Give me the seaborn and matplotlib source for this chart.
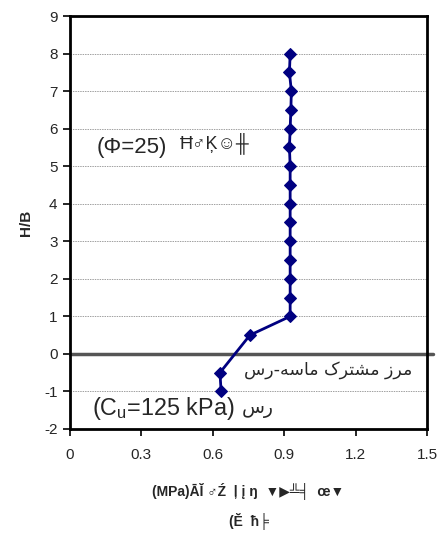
import matplotlib
matplotlib.use("Agg")
import matplotlib.pyplot as plt
import seaborn as sns
import pandas as pd

# Data
h_b = [8.0, 7.5, 7.0, 6.5, 6.0, 5.5, 5.0, 4.5, 4.0, 3.5, 3.0, 2.5, 2.0, 1.5, 1.0, 0.5, -0.5, -1.0]
stress = [0.925, 0.922, 0.930, 0.928, 0.925, 0.922, 0.925, 0.925, 0.925, 0.925, 0.925, 0.925, 0.925, 0.925, 0.925, 0.756, 0.630, 0.635]
x_ticks = [0, 0.3, 0.6, 0.9, 1.2, 1.5]
y_ticks = list(range(-2, 10))

df = pd.DataFrame({"stress": stress, "hb": h_b})

sns.set_theme(style="white")
plt.rcParams["font.family"] = ["Liberation Sans", "DejaVu Sans"]
plt.rcParams["axes.unicode_minus"] = False
plt.rcParams["mathtext.fontset"] = "custom"
plt.rcParams["mathtext.rm"] = "Liberation Sans"
plt.rcParams["mathtext.it"] = "Liberation Sans:italic"
plt.rcParams["mathtext.bf"] = "Liberation Sans:bold"

fig = plt.figure(figsize=(4.4, 5.35), dpi=100)
ax = fig.add_axes([70 / 440, 1 - 429 / 535, (427 - 70) / 440, (429 - 16) / 535])

# grid lines
for yv in range(-1, 9):
    if yv != 0:
        ax.axhline(yv, color="#a0a0a0", lw=0.7, ls=(0, (1.5, 1)), zorder=1)
ax.axhline(0, color="#555555", lw=2.5, xmin=0, xmax=1.018, clip_on=False, zorder=2)

sns.lineplot(data=df, x="stress", y="hb", sort=False, estimator=None, ax=ax,
             color="#000080", lw=2, marker="D", markersize=6,
             markeredgecolor="#000080", zorder=3)

ax.set_xlim(0, 1.5)
ax.set_ylim(-2, 9)
ax.set_xticks(x_ticks)
ax.set_xticklabels(["0", "0.3", "0.6", "0.9", "1.2", "1.5"])
ax.set_yticks(y_ticks)
ax.tick_params(axis="both", which="both", direction="out", length=5, width=1.2,
               labelsize=11, color="black", bottom=True, left=True, pad=4)
ax.tick_params(axis="x", pad=9)
for s in ax.spines.values():
    s.set_color("black")
    s.set_linewidth(2)

ax.set_ylabel("H/B", fontsize=11, fontweight="bold", labelpad=8)
ax.set_xlabel("(MPa)ĀĬ ♂Ź  ļ į ŋ  ▼▶╩╡  œ▼\n(Ĕ  ħ╞", fontsize=10, fontweight="bold",
              labelpad=15, linespacing=2.0)

ax.text(0.11, 5.5, "(Φ=25)", fontsize=16, va="center", ha="left")
ax.text(0.462, 5.62, "Ħ♂Ķ☺╫", fontsize=13, va="center", ha="left")
ax.text(1.44, -0.43, "ﺱﺭ-ﻪﺳﺎﻣ ﮎﺮﺘﺸﻣ ﺯﺮﻣ", fontsize=12.5, va="center", ha="right",
        family=["DejaVu Sans"])
ax.text(0.092, -1.45, "(C$_\\mathrm{u}$=125 kPa)", fontsize=16.8, va="center", ha="left")
ax.text(0.855, -1.45, "ﺱﺭ", fontsize=13.5, va="center", ha="right", family=["DejaVu Sans"])

fig.savefig("out.png", dpi=100)
